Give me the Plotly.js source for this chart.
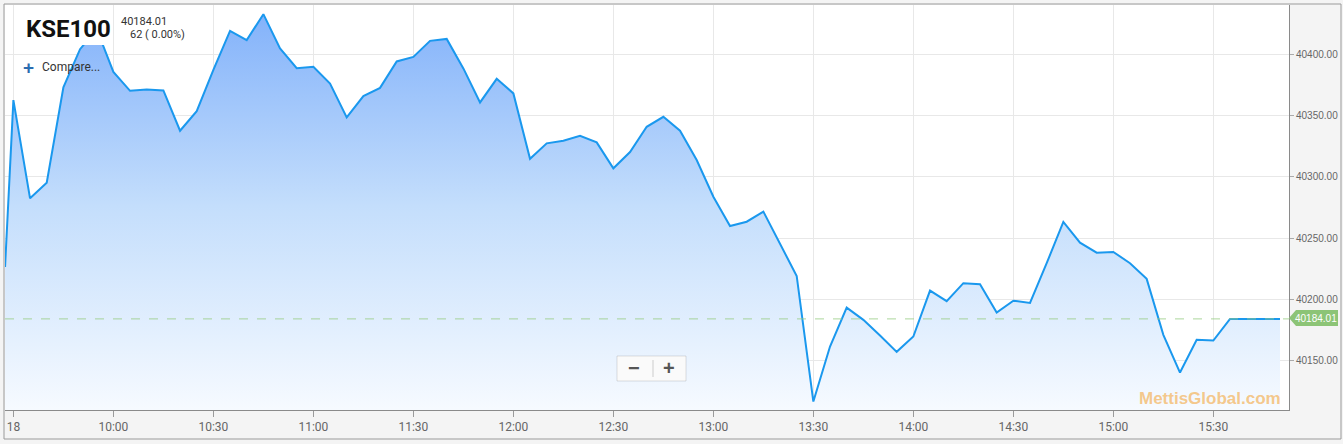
<!DOCTYPE html>
<html>
<head>
<meta charset="utf-8">
<script src="https://cdn.plot.ly/plotly-3.0.1.min.js"></script>
<style>
html,body{margin:0;padding:0;background:#f4f4f4;}
#chart{width:1343px;height:444px;}
</style>
</head>
<body>
<div id="chart"></div>
<script>
// ---- data ----
const day = "2019-10-18 ";
const times = ["09:27:30","09:30","09:35","09:40","09:45","09:50","09:55","10:00","10:05","10:10","10:15","10:20","10:25","10:30","10:35","10:40","10:45","10:50","10:55","11:00","11:05","11:10","11:15","11:20","11:25","11:30","11:35","11:40","11:45","11:50","11:55","12:00","12:05","12:10","12:15","12:20","12:25","12:30","12:35","12:40","12:45","12:50","12:55","13:00","13:05","13:10","13:15","13:20","13:25","13:30","13:35","13:40","13:45","13:50","13:55","14:00","14:05","14:10","14:15","14:20","14:25","14:30","14:35","14:40","14:45","14:50","14:55","15:00","15:05","15:10","15:15","15:20","15:25","15:30","15:35","15:40","15:45","15:50"];
const values = [40226.5,40362.7,40282.5,40295.2,40373.1,40404.3,40420.6,40385.8,40370.3,40371.4,40370.6,40337.7,40353.7,40387.5,40419.3,40411.7,40432.9,40404.9,40388.8,40389.9,40376.3,40348.6,40366.0,40372.7,40394.3,40398.0,40411.1,40412.7,40388.6,40360.8,40380.1,40368.2,40314.8,40327.4,40329.5,40333.6,40328.2,40307.0,40320.3,40340.9,40349.1,40337.7,40313.8,40283.8,40259.9,40263.4,40271.6,40245.8,40219.1,40116.5,40161.4,40193.2,40183.2,40170.4,40157.1,40169.6,40207.1,40198.5,40213.2,40212.3,40189.2,40198.9,40197.1,40229.5,40263.2,40246.3,40238.1,40238.7,40229.5,40216.7,40171.0,40140.2,40166.9,40166.3,40184.01,40184.01,40184.01,40184.01];
const tickTimes = ["09:30","10:00","10:30","11:00","11:30","12:00","12:30","13:00","13:30","14:00","14:30","15:00","15:30"];
const tickLabels = ["18","10:00","10:30","11:00","11:30","12:00","12:30","13:00","13:30","14:00","14:30","15:00","15:30"];
const yTicks = [40150,40200,40250,40300,40350,40400];
const lastPrice = 40184.01;
const title = "KSE100";
const changeText = "62 ( 0.00%)";

// ---- layout helpers (pixel -> paper) ----
const L = 5, R = 1289, T = 5, B = 410;
const W = 1343, H = 444;
const px = x => (x - L) / (R - L);
const py = y => (B - y) / (B - T);

const x = times.map(t => day + t);

const trace = {
  x: x, y: values, type: 'scatter', mode: 'lines',
  line: {color: '#1a98ee', width: 2},
  fill: 'tozeroy',
  fillgradient: {type: 'vertical', start: 40109.6, stop: 40440,
    colorscale: [[0, 'rgb(246,250,255)'], [0.5, 'rgb(196,222,252)'], [1, 'rgb(128,176,250)']]},
  hoverinfo: 'skip'
};

const tagPath = 'M ' + px(1289) + ' ' + py(318) + ' L ' + px(1296) + ' ' + py(310) + ' L ' + px(1338) + ' ' + py(310) +
  ' L ' + px(1338) + ' ' + py(326) + ' L ' + px(1296) + ' ' + py(326) + ' Z';

const layout = {
  width: W, height: H,
  margin: {l: L, r: W - R, t: T, b: H - B, pad: 0},
  paper_bgcolor: 'rgba(0,0,0,0)',
  plot_bgcolor: '#ffffff',
  showlegend: false,
  font: {family: 'Roboto, Arial, sans-serif', color: '#666'},
  xaxis: {
    type: 'date',
    range: [day + "09:27:29", day + "15:52:42"],
    tickvals: tickTimes.map(t => day + t), ticktext: tickLabels,
    showgrid: true, gridcolor: '#e8e8e8', gridwidth: 1,
    showline: true, linecolor: '#8a8a8a', linewidth: 1,
    ticks: 'outside', ticklen: 6, tickcolor: '#9a9a9a',
    tickfont: {size: 12, color: '#666', family: 'Roboto, sans-serif'},
    zeroline: false, fixedrange: true
  },
  yaxis: {
    side: 'right', range: [40109.6, 40440.4],
    tickvals: yTicks, tickformat: '.2f',
    showgrid: true, gridcolor: '#e8e8e8', gridwidth: 1,
    showline: true, linecolor: '#8a8a8a', linewidth: 1,
    ticks: 'outside', ticklen: 4, tickcolor: '#aaa',
    tickfont: {size: 10, color: '#666', family: 'Arial, Liberation Sans, sans-serif'},
    zeroline: false, fixedrange: true
  },
  shapes: [
    {type: 'line', xref: 'paper', x0: 0, x1: 1, yref: 'y', y0: lastPrice, y1: lastPrice,
     line: {color: 'rgba(150,205,130,0.8)', width: 1, dash: 'dash'}, layer: 'above'},
    {type: 'rect', xref: 'paper', yref: 'paper', x0: px(18), x1: px(110), y0: py(45), y1: py(9),
     fillcolor: '#ffffff', line: {width: 0}, layer: 'above'},
    {type: 'rect', xref: 'paper', yref: 'paper', x0: px(617), x1: px(686), y0: py(381), y1: py(356),
     fillcolor: '#fafafa', line: {color: 'rgba(0,0,0,0.12)', width: 1}, layer: 'above'},
    {type: 'line', xref: 'paper', yref: 'paper', x0: px(653), x1: px(653), y0: py(377), y1: py(360),
     line: {color: '#cccccc', width: 1}, layer: 'above'},
    {type: 'path', xref: 'paper', yref: 'paper', path: tagPath, fillcolor: '#8cc476', line: {width: 0}, layer: 'above'},
    {type: 'rect', xref: 'paper', yref: 'paper', x0: px(4), x1: px(1341), y0: py(439), y1: py(4),
     line: {color: '#9a9a9a', width: 1}, fillcolor: 'rgba(0,0,0,0)', layer: 'below'}
  ],
  annotations: [
    {xref: 'paper', yref: 'paper', x: px(24), y: py(29), xanchor: 'left', yanchor: 'middle', showarrow: false,
     text: '<b>' + title + '</b>', font: {size: 24, color: '#111', family: 'Roboto, sans-serif'}},
    {xref: 'paper', yref: 'paper', x: px(119), y: py(21), xanchor: 'left', yanchor: 'middle', showarrow: false,
     text: lastPrice.toFixed(2), font: {size: 11, color: '#333', family: 'Roboto, sans-serif'}},
    {xref: 'paper', yref: 'paper', x: px(187), y: py(34), xanchor: 'right', yanchor: 'middle', showarrow: false,
     text: changeText, font: {size: 11, color: '#333', family: 'Roboto, sans-serif'}},
    {xref: 'paper', yref: 'paper', x: px(29), y: py(67), xanchor: 'center', yanchor: 'middle', showarrow: false,
     text: '<b>+</b>', font: {size: 19, color: '#2b6cb0', family: 'Arial, sans-serif'}},
    {xref: 'paper', yref: 'paper', x: px(40), y: py(67), xanchor: 'left', yanchor: 'middle', showarrow: false,
     text: 'Compare...', font: {size: 12, color: '#333', family: 'Roboto, sans-serif'}},
    {xref: 'paper', yref: 'paper', x: px(634), y: py(368), xanchor: 'center', yanchor: 'middle', showarrow: false,
     text: '<b>\u2212</b>', font: {size: 20, color: '#555', family: 'Arial, sans-serif'}},
    {xref: 'paper', yref: 'paper', x: px(669), y: py(368), xanchor: 'center', yanchor: 'middle', showarrow: false,
     text: '<b>+</b>', font: {size: 20, color: '#555', family: 'Arial, sans-serif'}},
    {xref: 'paper', yref: 'paper', x: px(1316), y: py(318), xanchor: 'center', yanchor: 'middle', showarrow: false,
     text: lastPrice.toFixed(2), font: {size: 10, color: '#ffffff', family: 'Arial, sans-serif'}},
    {xref: 'paper', yref: 'paper', x: px(1283), y: py(398), xanchor: 'right', yanchor: 'middle', showarrow: false,
     text: '<b>MettisGlobal.com</b>', font: {size: 17, color: 'rgba(244,194,125,0.9)', family: 'Arial, Liberation Sans, sans-serif'}}
  ]
};

Plotly.newPlot('chart', [trace], layout, {displayModeBar: false, staticPlot: true});
</script>
</body>
</html>
